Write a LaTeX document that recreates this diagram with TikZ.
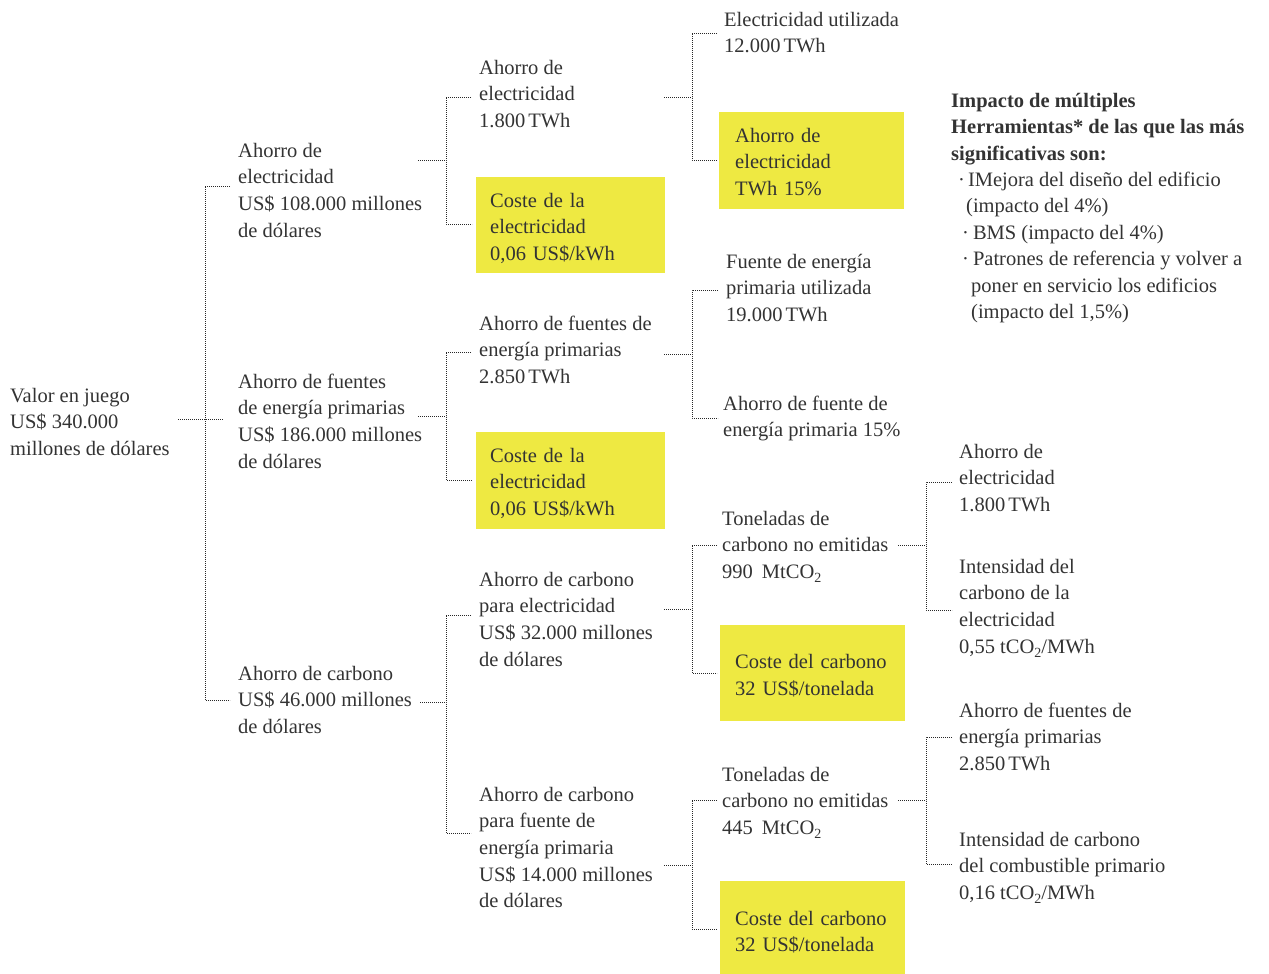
\documentclass[tikz,border=0pt]{standalone}
\usepackage{fontspec}
\setmainfont{Liberation Serif}
\definecolor{tc}{RGB}{51,51,51}
\definecolor{yel}{RGB}{238,233,66}
\definecolor{lc}{RGB}{40,40,40}
\newcommand{\fs}{\rule{0pt}{16pt}}
\newcommand{\mfs}{\fontsize{20.5}{26.6}\selectfont}
\newcommand{\nfs}{\fontsize{20.5}{26.4}\selectfont}
\newcommand{\subtwo}{\raisebox{-4pt}{\fontsize{14}{14}\selectfont 2}}
\newcommand{\tsp}{\hspace{3pt}}
\begin{document}
\begin{tikzpicture}[x=1pt,y=-1pt,
  txt/.style={anchor=north west, inner sep=0pt, align=left, font=\mfs, text=tc},
  ybox/.style={anchor=north west, fill=yel, inner ysep=0pt, align=left, font=\mfs, text=tc},
  conn/.style={draw=lc, line width=0.9pt, dash pattern=on 0.9pt off 1.1pt}]
\useasboundingbox (0,0) rectangle (1269,974);

% column 0
\node[txt] (root) at (10,386) {\fs Valor en juego\\US\$ 340.000\\millones de dólares};
% column 1
\node[txt] (a1) at (238,141) {\fs Ahorro de\\electricidad\\US\$ 108.000 millones\\de dólares};
\node[txt] (a2) at (238,372) {\fs Ahorro de fuentes\\de energía primarias\\US\$ 186.000 millones\\de dólares};
\node[txt] (a3) at (238,664) {\fs Ahorro de carbono\\US\$ 46.000 millones\\de dólares};
% column 2
\node[txt] (b1) at (479,58) {\fs Ahorro de\\electricidad\\1.800\tsp TWh};
\node[ybox, inner xsep=14pt, text width=161pt] (b2) at (476,177) {\rule{0pt}{30pt}Coste de la\\electricidad\\0,06 US\$/kWh\rule[-12.8pt]{0pt}{12.8pt}};
\node[txt] (b3) at (479,314) {\fs Ahorro de fuentes de\\energía primarias\\2.850\tsp TWh};
\node[ybox, inner xsep=14pt, text width=161pt] (b4) at (476,432) {\rule{0pt}{30pt}Coste de la\\electricidad\\0,06 US\$/kWh\rule[-13.8pt]{0pt}{13.8pt}};
\node[txt] (b5) at (479,570) {\fs Ahorro de carbono\\para electricidad\\US\$ 32.000 millones\\de dólares};
\node[txt] (b6) at (479,785) {\fs Ahorro de carbono\\para fuente de\\energía primaria\\US\$ 14.000 millones\\de dólares};
% column 3
\node[txt] (c1) at (724,10) {\fs Electricidad utilizada\\12.000\tsp TWh};
\node[ybox, inner xsep=16pt, text width=153pt] (c2) at (719,112) {\rule{0pt}{30pt}Ahorro de\\electricidad\\TWh 15\%\rule[-13.8pt]{0pt}{13.8pt}};
\node[txt] (c3) at (726,252) {\fs Fuente de energía\\primaria utilizada\\19.000\tsp TWh};
\node[txt] (c4) at (723,394) {\fs Ahorro de fuente de\\energía primaria 15\%};
\node[txt] (c5) at (722,509) {\fs Toneladas de\\carbono no emitidas\\990\hspace{9pt}MtCO\subtwo};
\node[ybox, inner xsep=15pt, text width=155pt] (c6) at (720,625) {\rule{0pt}{43.5pt}Coste del carbono\\32 US\$/tonelada\rule[-26pt]{0pt}{26pt}};
\node[txt] (c7) at (722,765) {\fs Toneladas de\\carbono no emitidas\\445\hspace{9pt}MtCO\subtwo};
\node[ybox, inner xsep=15pt, text width=155pt] (c8) at (720,881) {\rule{0pt}{44pt}Coste del carbono\\32 US\$/tonelada\rule[-22.4pt]{0pt}{22.4pt}};
% column 4
\node[txt] (d1) at (959,442) {\fs Ahorro de\\electricidad\\1.800\tsp TWh};
\node[txt] (d2) at (959,557) {\fs Intensidad del\\carbono de la\\electricidad\\0,55 tCO\subtwo/MWh};
\node[txt] (d3) at (959,701) {\fs Ahorro de fuentes de\\energía primarias\\2.850\tsp TWh};
\node[txt] (d4) at (959,830) {\fs Intensidad de carbono\\del combustible primario\\0,16 tCO\subtwo/MWh};
% note
\node[txt, font=\nfs] (note) at (951,91) {\fs\textbf{Impacto de múltiples}\\\textbf{Herramientas* de las que las más}\\\textbf{significativas son:}\\\hspace{7pt}·\hspace{3pt}IMejora del diseño del edificio\\\hspace{15pt}(impacto del 4\%)\\\hspace{11pt}·\hspace{4pt}BMS (impacto del 4\%)\\\hspace{11pt}·\hspace{4pt}Patrones de referencia y volver a\\\hspace{20pt}poner en servicio los edificios\\\hspace{20pt}(impacto del 1,5\%)};

% connector coordinates
\coordinate (r-o) at (178,419);
\coordinate (r-j) at (205,419);
\coordinate (a1-in) at ([xshift=-8pt]a1.west |- 0,186);
\coordinate (a2-in) at ([xshift=-15pt]a2.west |- 0,419);
\coordinate (a3-in) at ([xshift=-8pt]a3.west |- 0,700);

\coordinate (a1-o) at (418,160);
\coordinate (a1-j) at (446,160);
\coordinate (b1-in) at ([xshift=-8pt]b1.west |- 0,97);
\coordinate (b2-in) at ([xshift=-4pt]b2.west |- 0,224);

\coordinate (a2-o) at (418,416);
\coordinate (a2-j) at (446,416);
\coordinate (b3-in) at ([xshift=-8pt]b3.west |- 0,352);
\coordinate (b4-in) at ([xshift=-4pt]b4.west |- 0,480);

\coordinate (a3-o) at (420,702);
\coordinate (a3-j) at (446,702);
\coordinate (b5-in) at ([xshift=-8pt]b5.west |- 0,615);
\coordinate (b6-in) at ([xshift=-8pt]b6.west |- 0,833);

\coordinate (b1-o) at (664,97);
\coordinate (b1-j) at (692,97);
\coordinate (c1-in) at ([xshift=-7pt]c1.west |- 0,33);
\coordinate (c2-in) at ([xshift=-2pt]c2.west |- 0,160);

\coordinate (b3-o) at (664,354);
\coordinate (b3-j) at (692,354);
\coordinate (c3-in) at ([xshift=-8pt]c3.west |- 0,290);
\coordinate (c4-in) at ([xshift=-5pt]c4.west |- 0,418);

\coordinate (b5-o) at (664,609);
\coordinate (b5-j) at (692,609);
\coordinate (c5-in) at ([xshift=-5pt]c5.west |- 0,545);
\coordinate (c6-in) at ([xshift=-3pt]c6.west |- 0,673);

\coordinate (b6-o) at (664,865);
\coordinate (b6-j) at (692,865);
\coordinate (c7-in) at ([xshift=-5pt]c7.west |- 0,800);
\coordinate (c8-in) at ([xshift=-3pt]c8.west |- 0,929);

\coordinate (c5-o) at (898,545);
\coordinate (c5-j) at (926,545);
\coordinate (d1-in) at ([xshift=-7pt]d1.west |- 0,482);
\coordinate (d2-in) at ([xshift=-7pt]d2.west |- 0,610);

\coordinate (c7-o) at (898,800);
\coordinate (c7-j) at (926,800);
\coordinate (d3-in) at ([xshift=-7pt]d3.west |- 0,737);
\coordinate (d4-in) at ([xshift=-7pt]d4.west |- 0,864);

% connectors
\draw[conn] (r-o) -- (a2-in);
\draw[conn] (a1-in) -| (r-j) |- (a3-in);

\draw[conn] (a1-o) -- (a1-j);
\draw[conn] (b1-in) -| (a1-j) |- (b2-in);
\draw[conn] (a2-o) -- (a2-j);
\draw[conn] (b3-in) -| (a2-j) |- (b4-in);
\draw[conn] (a3-o) -- (a3-j);
\draw[conn] (b5-in) -| (a3-j) |- (b6-in);

\draw[conn] (b1-o) -- (b1-j);
\draw[conn] (c1-in) -| (b1-j) |- (c2-in);
\draw[conn] (b3-o) -- (b3-j);
\draw[conn] (c3-in) -| (b3-j) |- (c4-in);
\draw[conn] (b5-o) -- (b5-j);
\draw[conn] (c5-in) -| (b5-j) |- (c6-in);
\draw[conn] (b6-o) -- (b6-j);
\draw[conn] (c7-in) -| (b6-j) |- (c8-in);

\draw[conn] (c5-o) -- (c5-j);
\draw[conn] (d1-in) -| (c5-j) |- (d2-in);
\draw[conn] (c7-o) -- (c7-j);
\draw[conn] (d3-in) -| (c7-j) |- (d4-in);
\end{tikzpicture}
\end{document}
